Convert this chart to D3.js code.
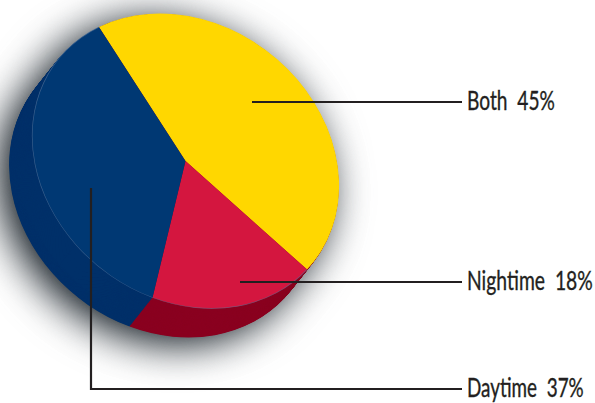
<!DOCTYPE html>
<html>
<head>
<meta charset="utf-8">
<script src="https://d3js.org/d3.v7.min.js"></script>
<style>
    html, body { margin: 0; padding: 0; background: #fff; }
    svg { display: block; }
    .label { font-family: Lato, "Open Sans", sans-serif; font-size: 26px; fill: #231f20; stroke: #231f20; stroke-width: 0.35px; white-space: pre; }
</style>
</head>
<body>
<div id="chart"></div>
<script>
const categories = ["Both", "Nightime", "Daytime"];
const shares = [45, 18, 37];
const topColors = ["#ffd700", "#d4163f", "#003873"];
const sideColors = ["#8a0020", "#8a0020", "#003069"];

const width = 595, height = 403;

// The pie is a unit circle squashed along a tilted axis, then extruded down-left
const center = { x: 185.5, y: 161 };
const tilt = 38.4, rx = 163, ry = 136.8;
const depth = { x: -23, y: 29 }, depthSteps = 60;

const svg = d3.select("#chart").append("svg")
    .attr("width", width)
    .attr("height", height);

const blur = svg.append("defs").append("filter")
    .attr("id", "shadow")
    .attr("filterUnits", "userSpaceOnUse")
    .attr("x", -100).attr("y", -100)
    .attr("width", width + 200).attr("height", height + 200)
    .attr("color-interpolation-filters", "sRGB");
blur.append("feGaussianBlur").attr("stdDeviation", 21);
// Push the alpha up so the soft edge stays dark further out
blur.append("feComponentTransfer")
    .append("feFuncA")
    .attr("type", "linear")
    .attr("slope", 1.35);

const pie = d3.pie()
    .sort(null)
    .startAngle(-68 * Math.PI / 180)
    .endAngle((360 - 68) * Math.PI / 180);
const slices = pie(shares);
const arc = d3.arc().innerRadius(0).outerRadius(1);
const rim = d3.arc().innerRadius(0.997).outerRadius(1.002);

const pieTransform = (dx, dy) =>
    `translate(${center.x + dx},${center.y + dy}) rotate(${tilt}) scale(${rx},${ry})`;

// Drop shadow: the blurred outline of the whole solid, pushed down-left
svg.append("g")
    .attr("filter", "url(#shadow)")
    .selectAll("path")
    .data(d3.range(0, depthSteps + 1, 6))
    .join("path")
        .attr("d", arc({ startAngle: 0, endAngle: 2 * Math.PI }))
        .attr("fill", "#474e54")
        .attr("transform", s => pieTransform(depth.x * s / depthSteps - 10, depth.y * s / depthSteps + 7));

// Side wall, back to front
for (let s = depthSteps; s > 0; s--) {
    svg.append("g")
        .attr("transform", pieTransform(depth.x * s / depthSteps, depth.y * s / depthSteps))
        .selectAll("path")
        .data(slices)
        .join("path")
            .attr("d", arc)
            .attr("fill", (d, i) => sideColors[i]);
}

// Top face
const face = svg.append("g").attr("transform", pieTransform(0, 0));
face.selectAll(".slice")
    .data(slices)
    .join("path")
        .attr("class", "slice")
        .attr("d", arc)
        .attr("fill", (d, i) => topColors[i]);

// Faint highlight on the rim where it meets the side wall
face.selectAll(".rim")
    .data(slices.slice(1))
    .join("path")
        .attr("class", "rim")
        .attr("d", rim)
        .attr("fill", "#5d7ba0")
        .attr("opacity", 0.6);

// Leader lines and labels
const leaders = [
    [[252, 102], [462, 102]],
    [[240, 282], [462, 282]],
    [[91, 188], [91, 389], [462, 389]]
];
const labelY = [110, 290, 397];
const labelSqueeze = [0.737, 0.744, 0.726];
const line = d3.line();

svg.selectAll(".leader")
    .data(leaders)
    .join("path")
        .attr("class", "leader")
        .attr("d", line)
        .attr("fill", "none")
        .attr("stroke", "#231f20")
        .attr("stroke-width", 2.2);

svg.selectAll(".label")
    .data(categories)
    .join("text")
        .attr("class", "label")
        .attr("transform", (d, i) => `translate(467,${labelY[i]}) scale(${labelSqueeze[i]},1)`)
        .text((d, i) => `${d}  ${shares[i]}%`);
</script>
</body>
</html>
